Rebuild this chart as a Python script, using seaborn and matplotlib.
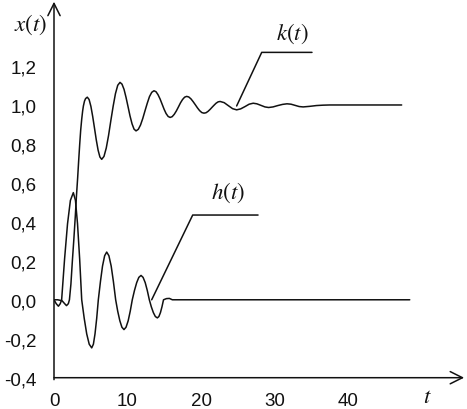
import matplotlib
matplotlib.use("Agg")
import matplotlib.pyplot as plt
import seaborn as sns
import pandas as pd

# ---- data ----
k_t = [0, 0.5, 1.1, 1.45, 1.7, 1.95, 2.1, 2.3, 2.5, 2.7, 2.9, 3.05, 3.22, 3.35, 3.5, 3.63,
       3.77, 3.9, 4.0, 4.15, 4.3, 4.53,
       4.775, 5.02, 5.265, 5.51, 5.755, 6.0, 6.245, 6.49,
       6.80, 7.11, 7.42, 7.73, 8.05, 8.36, 8.67, 8.98,
       9.25, 9.53, 9.80, 10.07, 10.34, 10.62, 10.89, 11.16,
       11.47, 11.77, 12.08, 12.38, 12.69, 12.99, 13.30, 13.6,
       13.88, 14.15, 14.43, 14.7, 14.98, 15.25, 15.53, 15.8,
       16.08, 16.36, 16.64, 16.93, 17.21, 17.49, 17.77, 18.05,
       18.34, 18.64, 18.93, 19.23, 19.52, 19.81, 20.11, 20.4,
       20.68, 20.95, 21.23, 21.5, 21.78, 22.05, 22.33, 22.6,
       23.15, 23.7, 24.3, 24.85,
       25.4, 26.0, 26.55, 27.1, 27.6, 28.15, 28.7, 29.2, 29.8, 30.45, 31.1, 31.7,
       32.25, 32.8, 33.35, 33.9, 34.8, 35.7, 36.6, 37.5, 47.3]
k_val = [0, 0, -0.005, -0.02, -0.03, -0.02, 0, 0.08, 0.2, 0.31, 0.43, 0.53, 0.627, 0.71, 0.8, 0.87,
         0.927, 0.97, 0.995, 1.02, 1.033, 1.04,
         1.028, 0.993, 0.941, 0.881, 0.820, 0.768, 0.733, 0.721,
         0.736, 0.779, 0.843, 0.919, 0.994, 1.058, 1.101, 1.116,
         1.107, 1.080, 1.039, 0.992, 0.944, 0.903, 0.876, 0.867,
         0.875, 0.897, 0.931, 0.970, 1.009, 1.043, 1.065, 1.073,
         1.068, 1.053, 1.031, 1.005, 0.978, 0.956, 0.941, 0.936,
         0.940, 0.952, 0.969, 0.990, 1.011, 1.028, 1.040, 1.044,
         1.041, 1.031, 1.017, 1.001, 0.985, 0.971, 0.961, 0.958,
         0.960, 0.967, 0.977, 0.988, 0.999, 1.009, 1.016, 1.018,
         1.012, 0.997, 0.981, 0.975,
         0.980, 0.992, 1.004, 1.009, 1.006, 0.998, 0.990, 0.987, 0.990, 0.997, 1.003, 1.006,
         1.004, 0.998, 0.992, 0.990, 0.993, 0.997, 0.999, 1.0, 1.0]

h_t = [0, 0.3, 0.6, 0.85, 1.04, 1.44, 1.84, 2.23, 2.63, 2.92, 3.2, 3.49, 3.77,
       4.11, 4.45, 4.79, 5.13, 5.36, 5.58, 5.81, 6.03,
       6.32, 6.6, 6.89, 7.17, 7.47, 7.78, 8.08, 8.39,
       8.67, 8.96, 9.24, 9.52, 9.8, 10.09, 10.37, 10.65,
       10.95, 11.25, 11.54, 11.84, 12.12, 12.41, 12.69, 12.97,
       13.24, 13.52, 13.79, 14.06, 14.27, 14.48, 14.69, 14.9,
       15.3, 15.7, 16.1, 48.4]
h_val = [0, -0.02, -0.033, -0.02, 0, 0.21, 0.39, 0.51, 0.55, 0.51, 0.39, 0.21, 0,
         -0.095, -0.175, -0.228, -0.247, -0.228, -0.175, -0.095, 0,
         0.094, 0.173, 0.226, 0.245, 0.226, 0.173, 0.094, 0,
         -0.059, -0.108, -0.141, -0.153, -0.141, -0.108, -0.059, 0,
         0.048, 0.088, 0.115, 0.125, 0.115, 0.088, 0.048, 0,
         -0.036, -0.066, -0.086, -0.093, -0.086, -0.066, -0.036, 0,
         0.006, 0.007, 0.0, 0]

x_ticks = [0, 10, 20, 30, 40]
x_ticklabels = ["0", "10", "20", "30", "40"]
y_ticks = [-0.4, -0.2, 0.0, 0.2, 0.4, 0.6, 0.8, 1.0, 1.2]
y_ticklabels = ["-0,4", "-0,2", "0,0", "0,2", "0,4", "0,6", "0,8", "1,0", "1,2"]

# ---- figure ----
sns.set_style("white")
plt.rcParams["font.family"] = ["Liberation Sans", "DejaVu Sans"]
plt.rcParams["mathtext.fontset"] = "stix"

fig = plt.figure(figsize=(4.67, 4.10), dpi=100)
ax = fig.add_axes([54 / 467, (410 - 378.7) / 410, 1 - 54 / 467, 378.7 / 410])

df_k = pd.DataFrame({"t": k_t, "x": k_val})
df_h = pd.DataFrame({"t": h_t, "x": h_val})
line_kw = dict(color="#111111", linewidth=1.1, sort=False, estimator=None, legend=False)
sns.lineplot(data=df_h, x="t", y="x", ax=ax, **line_kw)
sns.lineplot(data=df_k, x="t", y="x", ax=ax, **line_kw)

ax.set_xlim(0, 56.19)
ax.set_ylim(-0.4, 1.544)
for s in ax.spines.values():
    s.set_visible(False)

ax.set_xticks(x_ticks)
ax.set_xticklabels(x_ticklabels)
ax.set_yticks(y_ticks)
ax.set_yticklabels(y_ticklabels)
ax.tick_params(direction="inout", length=9, width=1.0, color="#111111",
               labelsize=13.5, labelcolor="#111111")
ax.tick_params(axis="x", pad=6)
ax.tick_params(axis="y", pad=8)
ax.set_xlabel("")
ax.set_ylabel("")

# axes with open arrow heads
arrow = dict(arrowstyle="->", lw=1.1, color="#111111", mutation_scale=22,
             shrinkA=0, shrinkB=0)
ax.annotate("", xy=(55.8, -0.4), xytext=(0, -0.4), arrowprops=arrow, annotation_clip=False)
ax.annotate("", xy=(0, 1.53), xytext=(0, -0.41), arrowprops=arrow, annotation_clip=False)

# leader lines for curve labels
ax.plot([24.85, 28.26, 35.1], [0.995, 1.27, 1.27], color="#111111", lw=1.1, clip_on=False)
ax.plot([13.29, 18.87, 27.76], [0.0, 0.435, 0.435], color="#111111", lw=1.1, clip_on=False)

lab = dict(fontsize=16.5, ha="center", va="center", color="#111111", clip_on=False)
ax.text(32.45, 1.369, r"$k(t)$", **lab)
ax.text(23.67, 0.552, r"$h(t)$", **lab)
ax.text(-3.2, 1.415, r"$x(t)$", **lab)
ax.text(50.75, -0.49, r"$t$", **lab)

fig.savefig("out.png", dpi=100)
